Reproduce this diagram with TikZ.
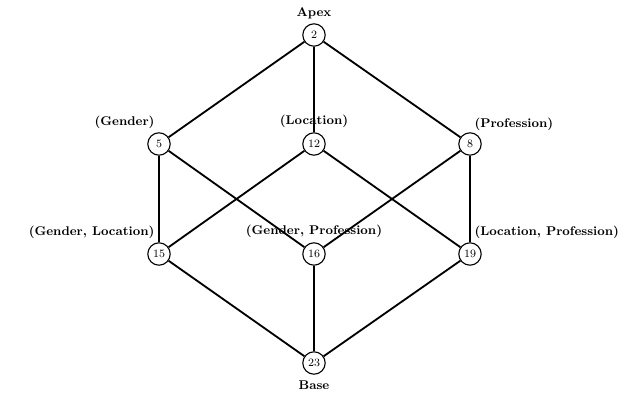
\documentclass[tikz,border=0pt]{standalone}
\usetikzlibrary{backgrounds}

\begin{document}
\begin{tikzpicture}[
  cell/.style={circle,draw,thick,fill=white,inner sep=0pt,minimum size=0.56cm,font=\footnotesize},
  lab/.style={font=\small\bfseries,inner sep=1pt},
  edge/.style={line width=1.3pt}
]

\useasboundingbox (0,0) rectangle (16.05,10.025);

\node[cell,label={[lab,label distance=2pt]above:Apex}] (c2) at (7.85,9.15) {2};
\node[cell,label={[lab,anchor=south east,xshift=-2pt,yshift=1pt]90:(Gender)}] (c5) at (3.975,6.425) {5};
\node[cell,label={[lab,label distance=2pt]above:(Location)}] (c12) at (7.85,6.425) {12};
\node[cell,label={[lab,anchor=south west,xshift=2pt]90:(Profession)}] (c8) at (11.75,6.425) {8};
\node[cell,label={[lab,anchor=south east,xshift=-2pt,yshift=1pt]90:(Gender, Location)}] (c15) at (3.975,3.675) {15};
\node[cell,label={[lab,label distance=2pt]above:(Gender, Profession)}] (c16) at (7.85,3.675) {16};
\node[cell,label={[lab,anchor=south west,xshift=2pt,yshift=1pt]90:(Location, Profession)}] (c19) at (11.75,3.675) {19};
\node[cell,label={[lab,label distance=3pt]below:Base}] (c23) at (7.85,0.95) {23};

\begin{pgfonlayer}{background}
\draw[edge] (c2)--(c5);
\draw[edge] (c2)--(c12);
\draw[edge] (c2)--(c8);

\draw[edge] (c5)--(c15);
\draw[edge] (c5)--(c16);
\draw[edge] (c12)--(c15);
\draw[edge] (c12)--(c19);
\draw[edge] (c8)--(c16);
\draw[edge] (c8)--(c19);

\draw[edge] (c15)--(c23);
\draw[edge] (c16)--(c23);
\draw[edge] (c19)--(c23);
\end{pgfonlayer}

\end{tikzpicture}
\end{document}
